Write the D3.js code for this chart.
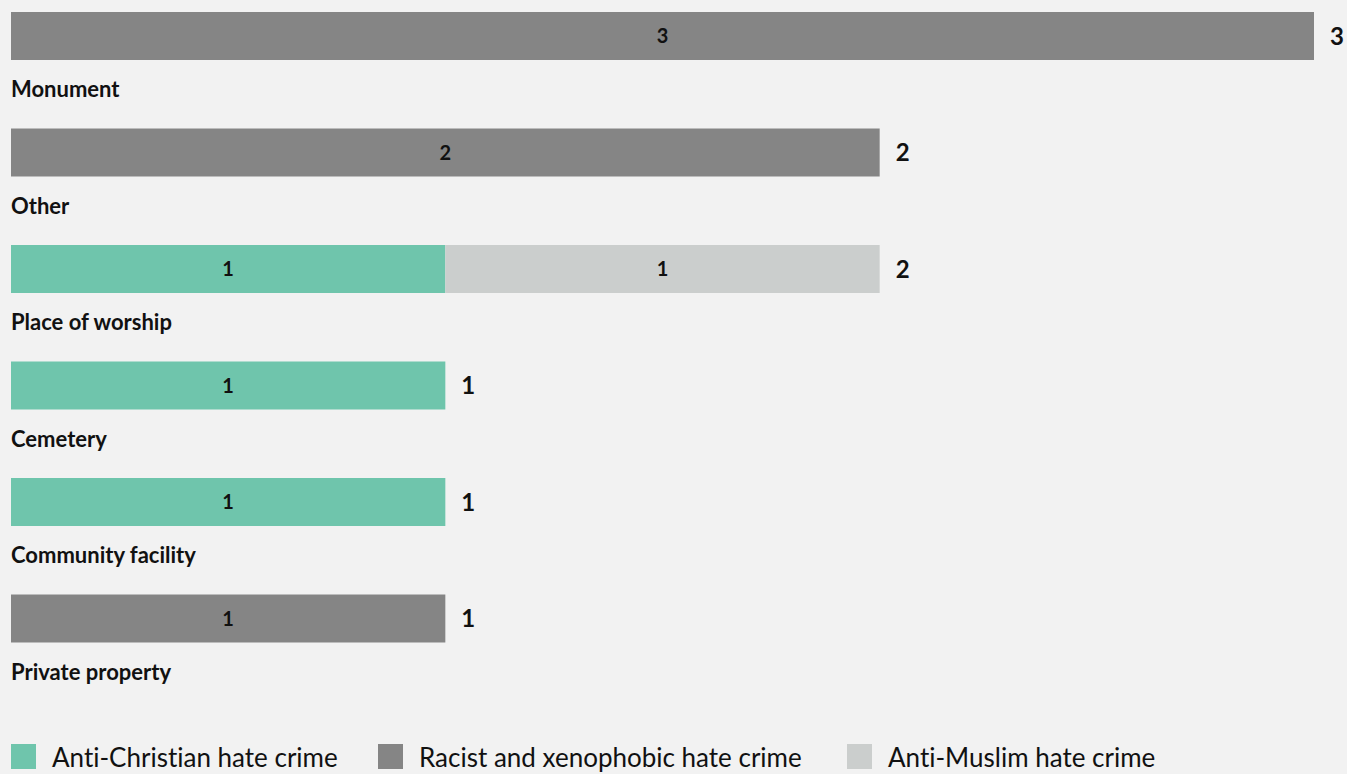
<!DOCTYPE html>
<html lang="en">
<head>
    <meta charset="UTF-8">
    <title>Hate crime by location</title>
    <script src="https://d3js.org/d3.v7.min.js"></script>
    <style>
        body { margin: 0; background: #f2f2f2; }
        svg { display: block; font-family: Lato, "Noto Sans", sans-serif; font-variant-ligatures: none; }
        .cat-label { font-size: 22px; font-weight: 700; fill: #111; }
        .seg-label { font-size: 20px; font-weight: 700; fill: #111; }
        .total-label { font-size: 24px; font-weight: 700; fill: #111; }
        .legend text { font-size: 26px; fill: #111; }
    </style>
</head>
<body>
    <svg width="1347" height="774"></svg>

    <script>
        const categories = ["Monument", "Other", "Place of worship", "Cemetery", "Community facility", "Private property"];
        const seriesNames = ["Anti-Christian hate crime", "Racist and xenophobic hate crime", "Anti-Muslim hate crime"];
        const antiChristian = [0, 0, 1, 1, 1, 0];
        const racist = [3, 2, 0, 0, 0, 1];
        const antiMuslim = [0, 0, 1, 0, 0, 0];
        const colors = ["#6fc5ac", "#858585", "#cbcecd"];

        const width = 1347, height = 774;
        const svg = d3.select("svg");
        svg.append("rect").attr("width", width).attr("height", height).attr("fill", "#f2f2f2");

        const rows = categories.map((c, i) => ({
            category: c,
            [seriesNames[0]]: antiChristian[i],
            [seriesNames[1]]: racist[i],
            [seriesNames[2]]: antiMuslim[i]
        }));

        const stacked = d3.stack().keys(seriesNames)(rows);

        const x = d3.scaleLinear().domain([0, 3]).range([11, 1314]);
        const y = d3.scaleBand().domain(categories).range([12, 12 + 116.5 * 6]);
        const barH = 48;

        const color = d3.scaleOrdinal().domain(seriesNames).range(colors);

        // stacked segments
        const layers = svg.append("g").selectAll("g")
            .data(stacked)
            .join("g");

        layers.selectAll("rect")
            .data(d => d.filter(s => s[1] - s[0] > 0).map(s => Object.assign(s, { key: d.key })))
            .join("rect")
            .attr("fill", d => color(d.key))
            .attr("x", d => x(d[0]))
            .attr("y", d => y(d.data.category))
            .attr("width", d => x(d[1]) - x(d[0]))
            .attr("height", barH);

        layers.selectAll("text")
            .data(d => d.filter(s => s[1] - s[0] > 0))
            .join("text")
            .attr("class", "seg-label")
            .attr("x", d => (x(d[0]) + x(d[1])) / 2)
            .attr("y", d => y(d.data.category) + barH / 2)
            .attr("dy", "0.36em")
            .attr("text-anchor", "middle")
            .text(d => d[1] - d[0]);

        // totals to the right of each bar
        const totals = categories.map((c, i) => antiChristian[i] + racist[i] + antiMuslim[i]);

        svg.append("g").selectAll("text")
            .data(categories)
            .join("text")
            .attr("class", "total-label")
            .attr("x", (c, i) => x(totals[i]) + 16)
            .attr("y", c => y(c) + barH / 2)
            .attr("dy", "0.36em")
            .text((c, i) => totals[i]);

        // category names under the bars
        svg.append("g").selectAll("text")
            .data(categories)
            .join("text")
            .attr("class", "cat-label")
            .attr("x", 11)
            .attr("y", c => y(c) + 85)
            .text(c => c);

        // legend
        const legendX = [11, 378, 847];
        const legend = svg.append("g").attr("class", "legend")
            .selectAll("g")
            .data(seriesNames)
            .join("g")
            .attr("transform", (d, i) => `translate(${legendX[i]},744)`);

        legend.append("rect")
            .attr("width", 25)
            .attr("height", 25)
            .attr("fill", d => color(d));

        legend.append("text")
            .attr("x", 41)
            .attr("y", 23)
            .text(d => d);
    </script>
</body>
</html>
